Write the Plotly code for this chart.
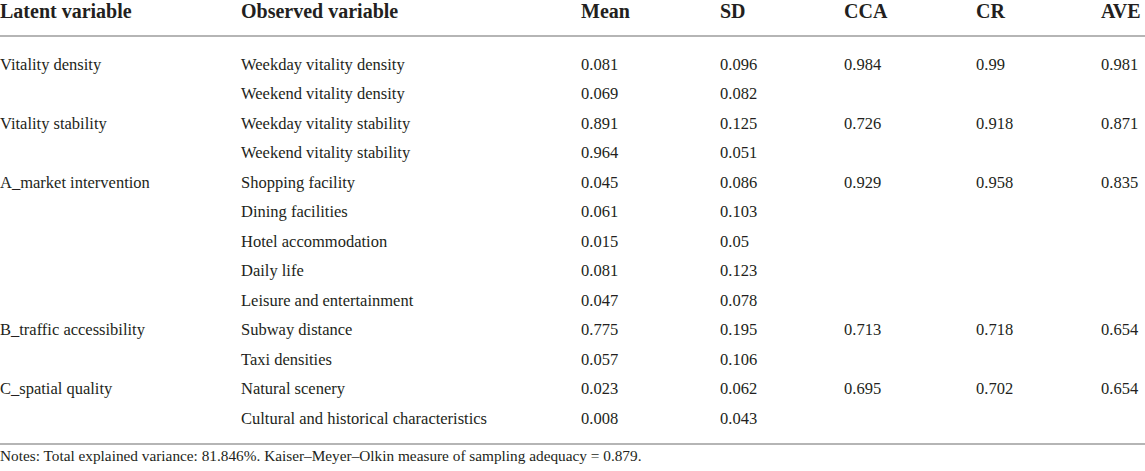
import plotly.graph_objects as go

headers = ["Latent variable", "Observed variable", "Mean", "SD", "CCA", "CR", "AVE"]
latent = ["Vitality density", "", "Vitality stability", "", "A_market intervention", "", "", "", "",
          "B_traffic accessibility", "", "C_spatial quality", ""]
observed = ["Weekday vitality density", "Weekend vitality density", "Weekday vitality stability",
            "Weekend vitality stability", "Shopping facility", "Dining facilities", "Hotel accommodation",
            "Daily life", "Leisure and entertainment", "Subway distance", "Taxi densities",
            "Natural scenery", "Cultural and historical characteristics"]
mean = ["0.081", "0.069", "0.891", "0.964", "0.045", "0.061", "0.015", "0.081", "0.047", "0.775", "0.057", "0.023", "0.008"]
sd = ["0.096", "0.082", "0.125", "0.051", "0.086", "0.103", "0.05", "0.123", "0.078", "0.195", "0.106", "0.062", "0.043"]
cca = ["0.984", "", "0.726", "", "0.929", "", "", "", "", "0.713", "", "0.695", ""]
cr = ["0.99", "", "0.918", "", "0.958", "", "", "", "", "0.718", "", "0.702", ""]
ave = ["0.981", "", "0.871", "", "0.835", "", "", "", "", "0.654", "", "0.654", ""]
note = "Notes: Total explained variance: 81.846%. Kaiser–Meyer–Olkin measure of sampling adequacy = 0.879."

W, H = 1145, 471
col_x = [0, 241, 581, 720, 844, 976, 1101]
row_y0, row_dy = 65.5, 29.5
header_y = 12.5
FONT = "Liberation Serif"

fig = go.Figure()
rows_y = [row_y0 + i * row_dy for i in range(len(observed))]
columns = [latent, observed, mean, sd, cca, cr, ave]
for cx, vals in zip(col_x, columns):
    fig.add_trace(go.Scatter(
        x=[cx] * len(vals), y=rows_y, text=vals, mode="text",
        textposition="middle right",
        textfont=dict(family=FONT, size=16.5, color="#231f20"),
        hoverinfo="skip", showlegend=False, cliponaxis=False))
fig.add_trace(go.Scatter(
    x=col_x, y=[header_y] * len(headers), text=["<b>%s</b>" % h for h in headers], mode="text",
    textposition="middle right",
    textfont=dict(family=FONT, size=20, color="#231f20"),
    hoverinfo="skip", showlegend=False, cliponaxis=False))
fig.add_trace(go.Scatter(
    x=[0], y=[457], text=[note], mode="text", textposition="middle right",
    textfont=dict(family=FONT, size=15.3, color="#231f20"),
    hoverinfo="skip", showlegend=False, cliponaxis=False))

for yl in [36, 444]:
    fig.add_shape(type="line", x0=0, x1=W, y0=yl, y1=yl, xref="x", yref="y",
                  line=dict(color="#9d9d9d", width=1.5))

fig.update_layout(
    width=W, height=H, margin=dict(l=0, r=0, t=0, b=0),
    paper_bgcolor="white", plot_bgcolor="white",
    xaxis=dict(range=[0, W], visible=False, fixedrange=True),
    yaxis=dict(range=[H, 0], visible=False, fixedrange=True),
)
fig.write_html("out.html", config={"displayModeBar": False},
               post_script="document.body.style.margin='0';document.body.style.overflow='hidden';")
